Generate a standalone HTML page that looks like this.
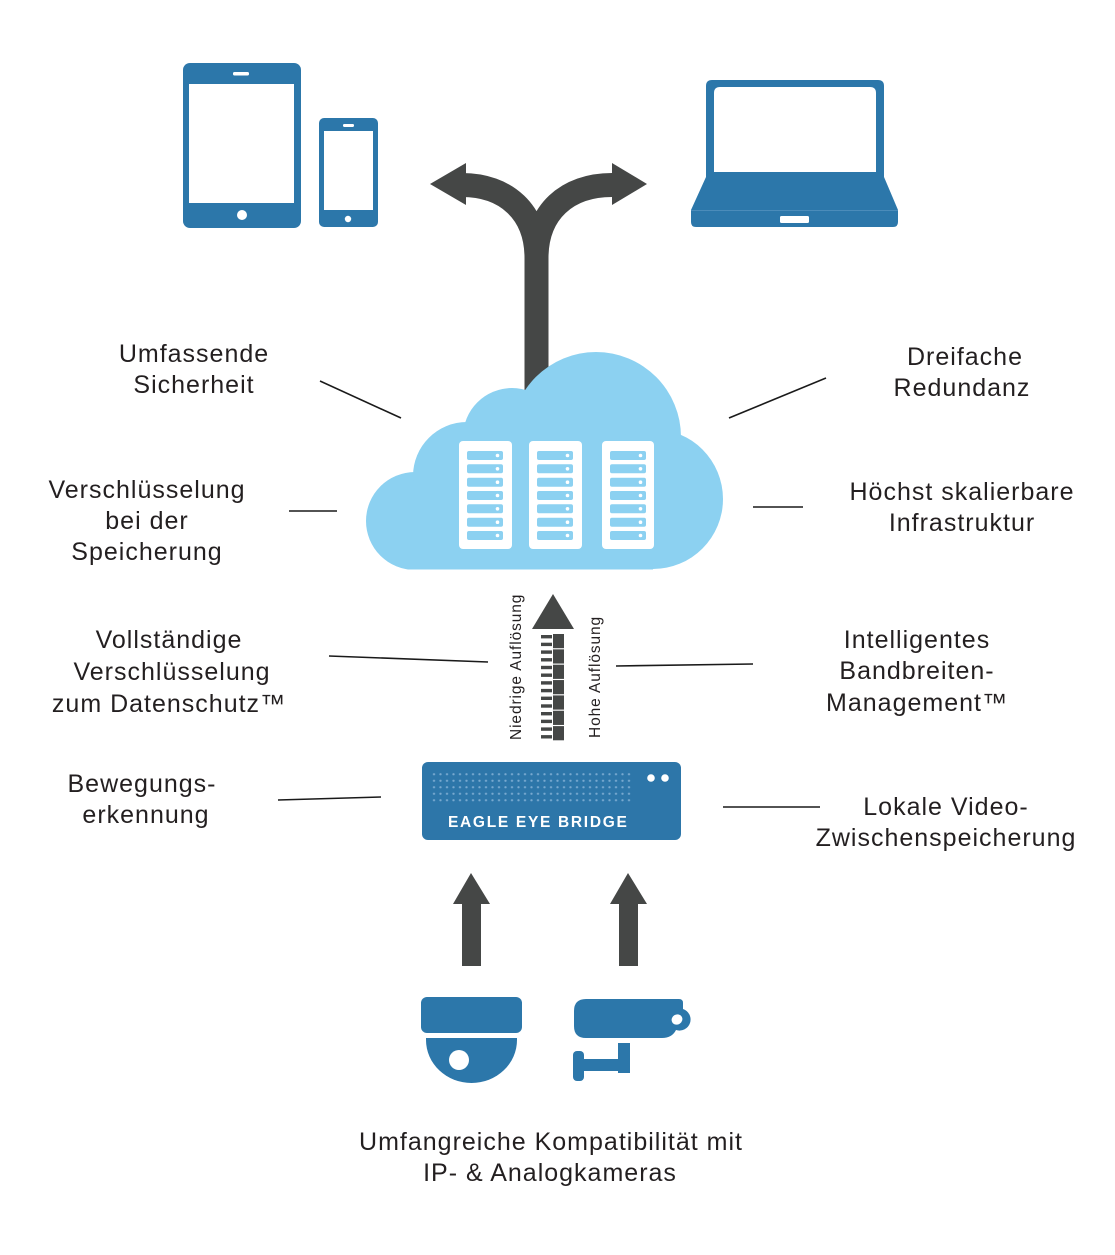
<!DOCTYPE html>
<html>
<head>
<meta charset="utf-8">
<style>
  html,body{margin:0;padding:0;background:#fff;}
  svg{display:block;}
  .t{font-family:"Liberation Sans",sans-serif;font-size:25px;fill:#231f20;letter-spacing:1px;text-anchor:middle;}
  .v{font-family:"Liberation Sans",sans-serif;font-size:15.5px;fill:#231f20;letter-spacing:0.9px;}
  .ln{stroke:#1a1a1a;stroke-width:1.6;fill:none;}
</style>
</head>
<body>
<svg width="1115" height="1255" viewBox="0 0 1115 1255" xmlns="http://www.w3.org/2000/svg">
  <defs>
    <clipPath id="cc"><rect x="300" y="300" width="500" height="269.5"/></clipPath>
    <pattern id="dots" patternUnits="userSpaceOnUse" x="430.75" y="771" width="6.5" height="6.5">
      <circle cx="3.25" cy="3.25" r="1.15" fill="#78a9cf"/>
    </pattern>
  </defs>

  <!-- Tablet -->
  <rect x="183" y="63" width="118" height="165" rx="7" fill="#2c77aa"/>
  <rect x="189" y="84" width="105" height="119" fill="#fff"/>
  <rect x="233" y="72" width="16" height="3.5" rx="1.5" fill="#fff"/>
  <circle cx="242" cy="215" r="5" fill="#fff"/>
  <!-- Phone -->
  <rect x="319" y="118" width="59" height="109" rx="5" fill="#2c77aa"/>
  <rect x="324" y="131" width="49" height="79" fill="#fff"/>
  <rect x="343" y="124" width="11" height="3" rx="1.2" fill="#fff"/>
  <circle cx="348" cy="219" r="3.2" fill="#fff"/>

  <!-- Laptop -->
  <path d="M712,80 L878,80 Q884,80 884,86 L884,178 L706,178 L706,86 Q706,80 712,80 Z" fill="#2c77aa"/>
  <path d="M720,87 L870,87 Q876,87 876,93 L876,172 L714,172 L714,93 Q714,87 720,87 Z" fill="#fff"/>
  <path d="M706,177 L884,177 L898,210 L691,210 Z" fill="#2c77aa"/>
  <path d="M691,211 L898,211 L898,222 Q898,227 893,227 L696,227 Q691,227 691,222 Z" fill="#2c77aa"/>
  <line x1="691" y1="210.5" x2="898" y2="210.5" stroke="#4b8cba" stroke-width="1"/>
  <rect x="780" y="216" width="29" height="7" rx="1.5" fill="#fff"/>

  <!-- Split arrow -->
  <path d="M536.5,430 L536.5,258 C536.5,212 506,185 462,185" stroke="#454746" stroke-width="24" fill="none"/>
  <path d="M536.5,430 L536.5,258 C536.5,212 567,185 612,185" stroke="#454746" stroke-width="24" fill="none"/>
  <polygon points="430,184 466,163 466,205" fill="#454746"/>
  <polygon points="647,184 612,163 612,205" fill="#454746"/>

  <!-- Cloud -->
  <g clip-path="url(#cc)" fill="#8cd1f1">
    <circle cx="415" cy="521" r="49"/>
    <circle cx="467" cy="476" r="54"/>
    <circle cx="512" cy="437" r="49"/>
    <circle cx="596" cy="437" r="85"/>
    <circle cx="653" cy="499" r="70"/>
    <rect x="415" y="480" width="238" height="90"/>
  </g>

  <!-- Servers -->
  <g>
    <rect x="459" y="441" width="53" height="108" rx="4" fill="#fff"/>
    <rect x="529" y="441" width="53" height="108" rx="4" fill="#fff"/>
    <rect x="602" y="441" width="52" height="108" rx="4" fill="#fff"/>
  </g>
  <g fill="#8cd1f1">
    <rect x="467" y="451" width="36" height="9" rx="2"/>
    <rect x="467" y="464.3" width="36" height="9" rx="2"/>
    <rect x="467" y="477.7" width="36" height="9" rx="2"/>
    <rect x="467" y="491" width="36" height="9" rx="2"/>
    <rect x="467" y="504.3" width="36" height="9" rx="2"/>
    <rect x="467" y="517.7" width="36" height="9" rx="2"/>
    <rect x="467" y="531" width="36" height="9" rx="2"/>
    <rect x="537" y="451" width="36" height="9" rx="2"/>
    <rect x="537" y="464.3" width="36" height="9" rx="2"/>
    <rect x="537" y="477.7" width="36" height="9" rx="2"/>
    <rect x="537" y="491" width="36" height="9" rx="2"/>
    <rect x="537" y="504.3" width="36" height="9" rx="2"/>
    <rect x="537" y="517.7" width="36" height="9" rx="2"/>
    <rect x="537" y="531" width="36" height="9" rx="2"/>
    <rect x="610" y="451" width="36" height="9" rx="2"/>
    <rect x="610" y="464.3" width="36" height="9" rx="2"/>
    <rect x="610" y="477.7" width="36" height="9" rx="2"/>
    <rect x="610" y="491" width="36" height="9" rx="2"/>
    <rect x="610" y="504.3" width="36" height="9" rx="2"/>
    <rect x="610" y="517.7" width="36" height="9" rx="2"/>
    <rect x="610" y="531" width="36" height="9" rx="2"/>
  </g>
  <g fill="#fff">
    <circle cx="497.5" cy="455.5" r="1.8"/><circle cx="497.5" cy="468.8" r="1.8"/><circle cx="497.5" cy="482.2" r="1.8"/><circle cx="497.5" cy="495.5" r="1.8"/><circle cx="497.5" cy="508.8" r="1.8"/><circle cx="497.5" cy="522.2" r="1.8"/><circle cx="497.5" cy="535.5" r="1.8"/>
    <circle cx="567.5" cy="455.5" r="1.8"/><circle cx="567.5" cy="468.8" r="1.8"/><circle cx="567.5" cy="482.2" r="1.8"/><circle cx="567.5" cy="495.5" r="1.8"/><circle cx="567.5" cy="508.8" r="1.8"/><circle cx="567.5" cy="522.2" r="1.8"/><circle cx="567.5" cy="535.5" r="1.8"/>
    <circle cx="640.5" cy="455.5" r="1.8"/><circle cx="640.5" cy="468.8" r="1.8"/><circle cx="640.5" cy="482.2" r="1.8"/><circle cx="640.5" cy="495.5" r="1.8"/><circle cx="640.5" cy="508.8" r="1.8"/><circle cx="640.5" cy="522.2" r="1.8"/><circle cx="640.5" cy="535.5" r="1.8"/>
  </g>

  <!-- Middle upload arrow -->
  <polygon points="553,594 532,629 574,629" fill="#454746"/>
  <g fill="#454746">
    <rect x="541" y="635" width="11" height="3.4"/>
    <rect x="541" y="642.7" width="11" height="3.4"/>
    <rect x="541" y="650.4" width="11" height="3.4"/>
    <rect x="541" y="658.1" width="11" height="3.4"/>
    <rect x="541" y="665.8" width="11" height="3.4"/>
    <rect x="541" y="673.5" width="11" height="3.4"/>
    <rect x="541" y="681.2" width="11" height="3.4"/>
    <rect x="541" y="688.9" width="11" height="3.4"/>
    <rect x="541" y="696.6" width="11" height="3.4"/>
    <rect x="541" y="704.3" width="11" height="3.4"/>
    <rect x="541" y="712" width="11" height="3.4"/>
    <rect x="541" y="719.7" width="11" height="3.4"/>
    <rect x="541" y="727.4" width="11" height="3.4"/>
    <rect x="541" y="735.1" width="11" height="3.4"/>
    <rect x="553" y="634" width="11" height="14.2"/>
    <rect x="553" y="649.35" width="11" height="14.2"/>
    <rect x="553" y="664.7" width="11" height="14.2"/>
    <rect x="553" y="680.05" width="11" height="14.2"/>
    <rect x="553" y="695.4" width="11" height="14.2"/>
    <rect x="553" y="710.75" width="11" height="14.2"/>
    <rect x="553" y="726.1" width="11" height="14.2"/>
  </g>
  <text class="v" transform="translate(521,740) rotate(-90)">Niedrige Auflösung</text>
  <text class="v" transform="translate(600,738) rotate(-90)">Hohe Auflösung</text>

  <!-- Eagle Eye Bridge -->
  <rect x="422" y="762" width="259" height="78" rx="6" fill="#2d76a9"/>
  <rect x="430.75" y="771" width="201.5" height="32.5" fill="url(#dots)"/>
  <circle cx="651" cy="778" r="3.8" fill="#fff"/>
  <circle cx="665" cy="778" r="3.8" fill="#fff"/>
  <text x="448" y="827" font-family="Liberation Sans, sans-serif" font-weight="bold" font-size="15.5" letter-spacing="1.7" fill="#fff">EAGLE EYE BRIDGE</text>

  <!-- Camera arrows -->
  <polygon points="471,873 453,904 462,904 462,966 481,966 481,904 490,904" fill="#454746"/>
  <polygon points="628,873 610,904 619,904 619,966 638,966 638,904 647,904" fill="#454746"/>

  <!-- Dome camera -->
  <rect x="421" y="997" width="101" height="36" rx="6" fill="#2c77aa"/>
  <path d="M426,1038 L517,1038 L517,1040 A45.5,43 0 0 1 426,1040 Z" fill="#2c77aa"/>
  <circle cx="459" cy="1060" r="10" fill="#fff"/>

  <!-- Bullet camera -->
  <path d="M586,999 L679,999 Q683,999 683,1003 L683,1009 A11,11 0 0 1 676,1030 Q672,1038 662,1038 L586,1038 Q574,1038 574,1026 L574,1011 Q574,999 586,999 Z" fill="#2c77aa"/>
  <ellipse cx="677" cy="1019.5" rx="5.5" ry="5" transform="rotate(-30 677 1019.5)" fill="#fff"/>
  <rect x="618" y="1043" width="12" height="30" fill="#2c77aa"/>
  <rect x="582" y="1059" width="37" height="12" fill="#2c77aa"/>
  <rect x="573" y="1051" width="11" height="30" rx="4" fill="#2c77aa"/>

  <!-- Connector lines -->
  <line class="ln" x1="320" y1="381" x2="401" y2="418"/>
  <line class="ln" x1="289" y1="511" x2="337" y2="511"/>
  <line class="ln" x1="729" y1="418" x2="826" y2="378"/>
  <line class="ln" x1="753" y1="507" x2="803" y2="507"/>
  <line class="ln" x1="329" y1="656" x2="488" y2="662"/>
  <line class="ln" x1="616" y1="666" x2="753" y2="664"/>
  <line class="ln" x1="278" y1="800" x2="381" y2="797"/>
  <line class="ln" x1="723" y1="807" x2="820" y2="807"/>

  <!-- Labels -->
  <text class="t" x="194" y="362">Umfassende</text>
  <text class="t" x="194" y="393">Sicherheit</text>

  <text class="t" x="965" y="365">Dreifache</text>
  <text class="t" x="962" y="396">Redundanz</text>

  <text class="t" x="147" y="498">Verschlüsselung</text>
  <text class="t" x="147" y="529">bei der</text>
  <text class="t" x="147" y="560">Speicherung</text>

  <text class="t" x="962" y="500">Höchst skalierbare</text>
  <text class="t" x="962" y="531">Infrastruktur</text>

  <text class="t" x="169" y="648">Vollständige</text>
  <text class="t" x="172" y="680">Verschlüsselung</text>
  <text class="t" x="169" y="712">zum Datenschutz™</text>

  <text class="t" x="917" y="648">Intelligentes</text>
  <text class="t" x="917" y="679">Bandbreiten-</text>
  <text class="t" x="917" y="711">Management™</text>

  <text class="t" x="142" y="792">Bewegungs-</text>
  <text class="t" x="146" y="823">erkennung</text>

  <text class="t" x="946" y="815">Lokale Video-</text>
  <text class="t" x="946" y="846">Zwischenspeicherung</text>

  <text class="t" x="551" y="1150">Umfangreiche Kompatibilität mit</text>
  <text class="t" x="550" y="1181">IP- &amp; Analogkameras</text>
</svg>
</body>
</html>
